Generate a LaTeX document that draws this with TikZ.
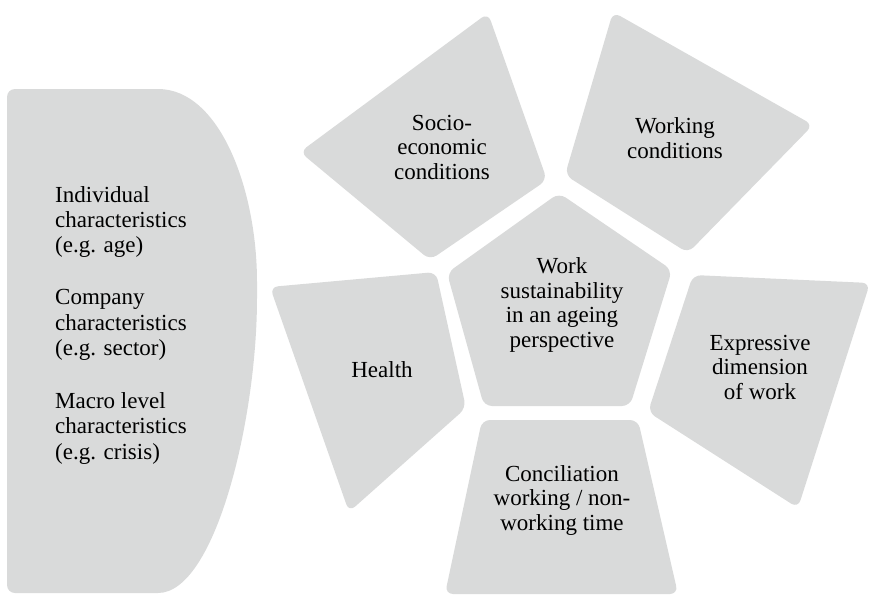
\documentclass[tikz,border=0pt]{standalone}
\usepackage{fontspec}
\setmainfont{Liberation Serif}
\usetikzlibrary{positioning}

\definecolor{tilegray}{RGB}{217,218,218}

\begin{document}
\begin{tikzpicture}[x=1pt,y=-1pt,
   tile/.style={fill=tilegray,rounded corners=8pt},
   lbl/.style={align=center,font=\fontsize{23}{24.5}\selectfont,inner sep=0pt},
   side/.style={align=left,font=\fontsize{23}{25.5}\selectfont,inner sep=0pt,anchor=west}]
   \useasboundingbox (0,0) rectangle (872,594);
   % left half-disc
   \fill[tile] (7,89) -- (150,89) .. controls (220,89) and (257,190) .. (257,290)
      .. controls (257,420) and (215,593) .. (150,593) -- (7,593) -- cycle;
   % pentagon and ring
   \fill[tile] (559,193) -- (672,270) -- (630,406) -- (484,406) -- (447,273) -- cycle;
   \fill[tile] (488,13) -- (547,180) -- (430,260) -- (300,152) -- cycle;
   \fill[tile] (613,12) -- (813,125) -- (688,253) -- (565,175) -- cycle;
   \fill[tile] (270,287) -- (436,272) -- (466,408) -- (349,512) -- cycle;
   \fill[tile] (693,275) -- (870,283) -- (798,508) -- (648,412) -- cycle;
   \fill[tile] (482,420) -- (638,420) -- (678,594) -- (445,594) -- cycle;

   \node[side] (indiv) at (55,222) {Individual\\characteristics\\(e.g. age)};
   \node[side] (comp) at (55,325) {Company\\characteristics\\(e.g. sector)};
   \node[side] (macro) at (55,428) {Macro level\\characteristics\\(e.g. crisis)};

   \node[lbl] (core) at (562,305) {Work\\sustainability\\in an ageing\\perspective};
   \node[lbl] (socio) at (442,147) {Socio-\\economic\\conditions};
   \node[lbl] (workc) at (675,138) {Working\\conditions};
   \node[lbl] (health) at (382,370) {Health};
   \node[lbl] (expr) at (760,367) {Expressive\\dimension\\of work};
   \node[lbl] (concil) at (562,500) {Conciliation\\working / non-\\working time};
\end{tikzpicture}
\end{document}
